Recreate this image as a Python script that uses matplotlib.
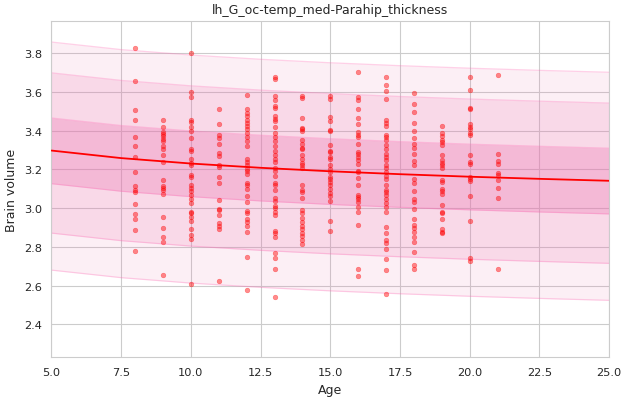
import matplotlib
matplotlib.use("Agg")
import matplotlib.pyplot as plt
import seaborn as sns
import numpy as np

# scatter data: one list of volumes per integer age
ages = [8, 9, 10, 11, 12, 13, 14, 15, 16, 17, 18, 19, 20, 21]
volumes = [
    [3.828, 3.655, 3.506, 3.454, 3.366, 3.320, 3.263, 3.186, 3.115, 3.096, 3.084, 3.020, 2.968, 2.943, 2.886, 2.778],
    [3.454, 3.418, 3.392, 3.382, 3.371, 3.358, 3.344, 3.323, 3.306, 3.275, 3.237, 3.146, 3.115, 3.105, 3.091, 3.074,
     2.953, 2.898, 2.850, 2.824, 2.654],
    [3.800, 3.600, 3.573, 3.454, 3.445, 3.421, 3.397, 3.363, 3.304, 3.297, 3.254, 3.232, 3.220, 3.173, 3.163, 3.117,
     3.103, 3.089, 3.067, 3.048, 3.027, 2.982, 2.974, 2.955, 2.931, 2.891, 2.862, 2.840, 2.607],
    [3.511, 3.433, 3.375, 3.363, 3.332, 3.284, 3.268, 3.223, 3.213, 3.160, 3.127, 3.041, 2.996, 2.988, 2.962, 2.922,
     2.910, 2.891, 2.623],
    [3.583, 3.513, 3.492, 3.475, 3.457, 3.440, 3.423, 3.406, 3.389, 3.366, 3.344, 3.323, 3.254, 3.237, 3.220, 3.203,
     3.189, 3.175, 3.130, 3.117, 3.100, 3.065, 3.031, 2.986, 2.974, 2.945, 2.927, 2.908, 2.877, 2.747, 2.576],
    [3.676, 3.667, 3.581, 3.556, 3.526, 3.518, 3.473, 3.461, 3.447, 3.421, 3.389, 3.366, 3.344, 3.323, 3.297, 3.272,
     3.254, 3.237, 3.206, 3.194, 3.165, 3.130, 3.117, 3.091, 3.051, 3.039, 3.013, 3.000, 2.982, 2.962, 2.884, 2.872,
     2.850, 2.769, 2.742, 2.686, 2.540],
    [3.581, 3.568, 3.464, 3.414, 3.406, 3.396, 3.349, 3.332, 3.309, 3.303, 3.275, 3.251, 3.234, 3.220, 3.206, 3.117,
     3.091, 3.082, 3.051, 2.988, 2.976, 2.948, 2.927, 2.910, 2.890, 2.872, 2.855, 2.833, 2.816],
    [3.581, 3.561, 3.470, 3.447, 3.401, 3.396, 3.327, 3.297, 3.289, 3.263, 3.251, 3.220, 3.203, 3.186, 3.160, 3.148,
     3.134, 3.117, 3.100, 3.079, 3.065, 3.039, 2.933, 2.881],
    [3.702, 3.573, 3.556, 3.513, 3.464, 3.435, 3.392, 3.378, 3.366, 3.332, 3.292, 3.280, 3.263, 3.246, 3.229, 3.194,
     3.186, 3.155, 3.117, 3.069, 3.056, 3.048, 3.034, 3.005, 2.979, 2.914, 2.686, 2.649],
    [3.676, 3.637, 3.602, 3.564, 3.457, 3.440, 3.423, 3.378, 3.366, 3.354, 3.327, 3.303, 3.280, 3.263, 3.246, 3.223,
     3.206, 3.186, 3.168, 3.148, 3.120, 3.091, 3.082, 3.069, 3.048, 3.027, 3.005, 2.982, 2.902, 2.872, 2.833, 2.821,
     2.790, 2.738, 2.681, 2.556],
    [3.595, 3.537, 3.495, 3.440, 3.396, 3.361, 3.332, 3.309, 3.280, 3.241, 3.223, 3.151, 3.130, 3.086, 3.048, 3.031,
     2.996, 2.945, 2.914, 2.896, 2.876, 2.850, 2.824, 2.772, 2.707, 2.686],
    [3.423, 3.389, 3.371, 3.354, 3.340, 3.327, 3.275, 3.246, 3.234, 3.220, 3.206, 3.143, 3.134, 3.100, 3.086, 3.074,
     3.017, 2.982, 2.976, 2.945, 2.890, 2.879, 2.869],
    [3.676, 3.609, 3.516, 3.509, 3.435, 3.418, 3.406, 3.389, 3.375, 3.275, 3.237, 3.230, 3.160, 3.148, 3.141, 3.062,
     2.933, 2.745, 2.726],
    [3.686, 3.278, 3.241, 3.230, 3.182, 3.172, 3.143, 3.103, 3.051, 2.685],
]

# fitted curve
curve_age = [5, 7.5, 10, 12.5, 15, 17.5, 20, 22.5, 25]
curve_vol = [3.297, 3.258, 3.230, 3.208, 3.190, 3.175, 3.162, 3.151, 3.141]

# band widths above / below the curve (inner, middle, outer)
band_up = [0.168, 0.401, 0.560]
band_down = [0.171, 0.426, 0.617]
band_alpha = [0.315, 0.175, 0.115]
band_color = "#eb73af"

sns.set_style("whitegrid")
fig, ax = plt.subplots(figsize=(6.28, 4.02), dpi=100)
fig.subplots_adjust(left=0.082, right=0.970, top=0.9445, bottom=0.1087)

cx = np.array(curve_age)
cy = np.array(curve_vol)
for i in [2, 1, 0]:
    lo = cy - band_down[i]
    hi = cy + band_up[i]
    ax.fill_between(cx, lo, hi, color=band_color, alpha=band_alpha[i], linewidth=0)
    ax.plot(cx, hi, color="hotpink", alpha=0.3, linewidth=0.9)
    ax.plot(cx, lo, color="hotpink", alpha=0.3, linewidth=0.9)

for age, vals in zip(ages, volumes):
    ax.scatter([age] * len(vals), vals, s=12, color="red", alpha=0.45, linewidths=0.3, zorder=3)

ax.plot(cx, cy, color="red", linewidth=1.3, zorder=4)

ax.set_xlim(5, 25)
ax.set_ylim(2.23, 3.964)
ax.set_yticks([2.4, 2.6, 2.8, 3.0, 3.2, 3.4, 3.6, 3.8])
ax.tick_params(labelsize=8.2, colors="#262626")
ax.set_xlabel("Age", fontsize=9, color="#262626")
ax.set_ylabel("Brain volume", fontsize=9, color="#262626")
ax.set_title("lh_G_oc-temp_med-Parahip_thickness", fontsize=9, color="#262626")

plt.savefig("out.png")
